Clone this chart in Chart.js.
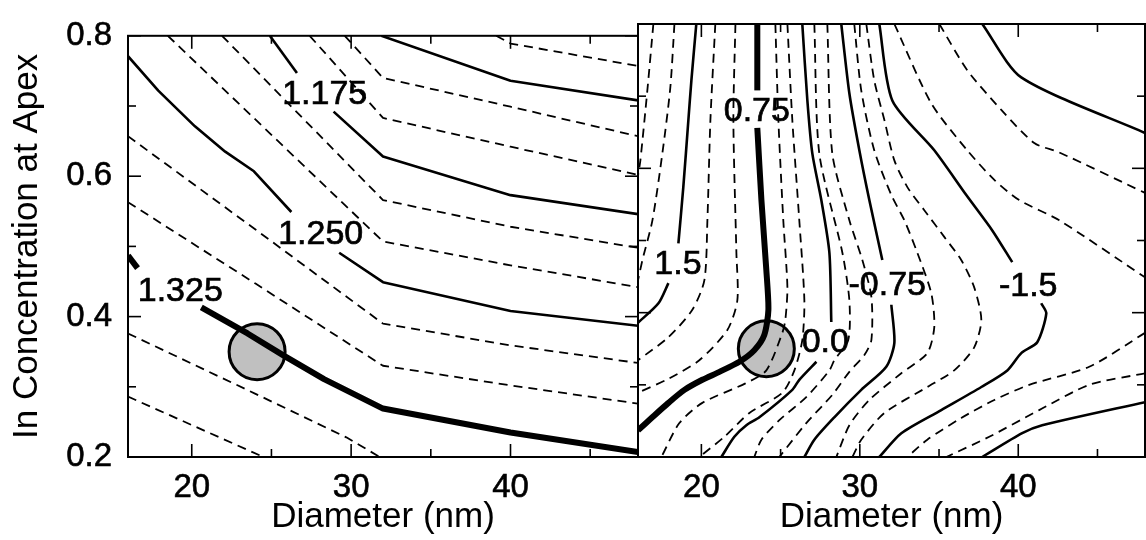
<!DOCTYPE html>
<html>
<head>
<meta charset="utf-8">
<script src="https://cdn.jsdelivr.net/npm/chart.js@4.4.1/dist/chart.umd.min.js"></script>
<style>
  html, body { margin: 0; padding: 0; background: #fff; }
  #wrap { position: relative; width: 1146px; height: 540px; overflow: hidden; background: #fff; }
  #c1 { position: absolute; left: 0; top: 0; }
  #c2 { position: absolute; left: 630px; top: 0; }
</style>
</head>
<body>
<div id="wrap">
  <canvas id="c1" width="640" height="540"></canvas>
  <canvas id="c2" width="516" height="540"></canvas>
</div>
<script>
// Axis ticks (diameter in nm, In concentration)
const xTicks = [20, 30, 40];
const xMinorTicks = [25, 35, 45];
const yTicks = [0.2, 0.4, 0.6, 0.8];
const yMinorTicks = [0.3, 0.5, 0.7];

// Optimum marker (diameter, concentration)
const optX = [24.1];
const optY = [0.35];

// Left panel contours, [diameter, concentration] pairs
const left1075  = [[39.1,0.800],[40.0,0.789],[48.0,0.757]];
const left1100  = [[31.9,0.800],[40.0,0.736],[48.0,0.708]];
const left1125  = [[29.6,0.800],[32.0,0.740],[40.0,0.699],[48.0,0.657]];
const left1150  = [[27.4,0.800],[32.0,0.683],[40.0,0.642],[48.0,0.602]];
const left1175a = [[24.9,0.800],[26.6,0.747]];
const left1175b = [[28.9,0.692],[32.0,0.628],[40.0,0.573],[48.0,0.546]];
const left1200  = [[21.9,0.800],[32.0,0.566],[40.0,0.528],[48.0,0.498]];
const left1225  = [[18.5,0.800],[32.0,0.507],[40.0,0.473],[48.0,0.442]];
const left1250a = [[16.0,0.771],[17.9,0.722],[20.2,0.671],[22.1,0.635],[23.9,0.607],[26.25,0.549]];
const left1250b = [[29.25,0.491],[32.0,0.449],[40.0,0.408],[48.0,0.387]];
const left1275  = [[16.0,0.657],[24.0,0.524],[32.0,0.390],[40.0,0.359],[48.0,0.334]];
const left1300  = [[16.0,0.563],[24.0,0.447],[32.0,0.330],[40.0,0.302],[48.0,0.276]];
const left1325a = [[16.0,0.487],[16.6,0.469]];
const left1325b = [[20.6,0.413],[23.5,0.376],[25.8,0.344],[28.3,0.311],[32.0,0.269],[40.0,0.235],[48.0,0.207]];
const left1350  = [[16.0,0.376],[24.0,0.290],[29.7,0.228],[31.8,0.200]];
const left1375  = [[16.0,0.286],[24.5,0.200]];

// Right panel contours, [diameter, concentration] pairs
const right200   = [[16.97,0.800],[16.59,0.708],[16.15,0.611],[16.0,0.590]];
const right175   = [[18.30,0.800],[18.04,0.712],[17.54,0.621],[16.91,0.528],[16.28,0.473],[16.0,0.445]];
const right150a  = [[19.68,0.800],[19.37,0.722],[19.18,0.667],[18.86,0.574],[18.55,0.496]];
const right150b  = [[17.92,0.441],[17.29,0.413],[16.0,0.386]];
const right125   = [[20.88,0.800],[20.57,0.667],[20.38,0.528],[20.19,0.445],[19.43,0.404],[17.92,0.366],[16.0,0.334]];
const right100   = [[22.15,0.800],[22.02,0.667],[22.21,0.483],[22.27,0.417],[21.64,0.376],[19.87,0.334],[17.98,0.309],[16.0,0.289]];
const right075a  = [[23.53,0.800],[23.53,0.708]];
const right075b  = [[23.53,0.656],[23.79,0.556],[24.10,0.459],[24.23,0.404],[23.97,0.369],[23.34,0.348],[22.40,0.332],[21.14,0.318],[20.06,0.307],[18.93,0.293],[17.92,0.275],[16.85,0.254],[16.0,0.237]];
const right050   = [[24.67,0.800],[24.86,0.667],[25.17,0.528],[25.43,0.435],[25.30,0.390],[25.11,0.372],[24.10,0.320],[22.78,0.302],[20.06,0.275],[18.61,0.247],[17.48,0.200]];
const right025   = [[25.43,0.800],[25.74,0.667],[26.18,0.528],[26.50,0.417],[26.37,0.362],[25.87,0.320],[25.11,0.289],[23.03,0.261],[21.45,0.228],[19.87,0.200]];
const right000a  = [[26.37,0.800],[26.69,0.694],[27.00,0.621],[27.57,0.556],[28.08,0.483],[28.20,0.387]];
const right000b  = [[27.26,0.332],[26.18,0.307],[25.74,0.293],[23.66,0.255],[22.84,0.244],[22.08,0.228],[21.26,0.200]];
const rightM025  = [[27.13,0.800],[27.44,0.621],[28.90,0.483],[29.34,0.417],[29.27,0.362],[28.39,0.334],[28.08,0.320],[26.62,0.283],[24.92,0.251],[23.79,0.224],[23.34,0.200]];
const rightM050  = [[27.95,0.800],[28.26,0.621],[29.34,0.528],[30.16,0.473],[30.73,0.422],[30.73,0.362],[30.28,0.341],[29.34,0.318],[28.26,0.286],[26.62,0.247],[24.92,0.200]];
const rightM075a = [[28.83,0.800],[29.34,0.704],[29.97,0.625],[30.60,0.556],[31.42,0.473]];
const rightM075b = [[31.99,0.411],[32.18,0.358],[31.67,0.325],[30.09,0.293],[28.39,0.255],[27.13,0.224],[26.50,0.200]];
const rightM100  = [[29.65,0.800],[30.09,0.708],[30.91,0.625],[31.99,0.563],[32.81,0.528],[33.63,0.483],[34.51,0.427],[34.70,0.380],[34.26,0.344],[32.62,0.316],[30.60,0.279],[29.34,0.244],[28.52,0.200]];
const rightM125  = [[30.41,0.800],[30.91,0.722],[31.55,0.667],[32.18,0.611],[33.00,0.574],[34.07,0.542],[35.33,0.505],[36.40,0.473],[37.22,0.435],[37.67,0.390],[37.22,0.352],[35.96,0.320],[34.26,0.297],[31.55,0.261],[30.09,0.224],[29.53,0.200]];
const rightM150a = [[31.23,0.800],[32.05,0.694],[34.70,0.625],[36.72,0.563],[38.36,0.514],[39.62,0.470]];
const rightM150b = [[41.45,0.413],[41.77,0.399],[41.20,0.359],[40.19,0.344],[39.31,0.320],[37.67,0.297],[35.14,0.265],[32.62,0.233],[31.23,0.200]];
const rightM175a = [[32.18,0.800],[34.51,0.690],[36.78,0.625],[38.49,0.584],[40.06,0.556],[42.59,0.528],[48.0,0.449]];
const rightM175b = [[48.0,0.372],[44.48,0.325],[40.69,0.300],[38.49,0.279],[36.40,0.254],[34.26,0.224],[33.00,0.200]];
const rightM200a = [[35.02,0.800],[36.78,0.736],[38.93,0.681],[41.01,0.635],[42.59,0.622],[48.0,0.566]];
const rightM200b = [[48.0,0.316],[44.48,0.300],[41.32,0.265],[38.17,0.228],[35.46,0.200]];
const rightM225a = [[37.73,0.800],[40.19,0.726],[48.0,0.649]];
const rightM225b = [[37.73,0.200],[40.25,0.233],[41.51,0.244],[48.0,0.276]];

// Contour level labels
const leftLabelText = ['1.175', '1.250', '1.325'];
const leftLabelX = [28.34, 28.09, 19.28];
const leftLabelY = [0.719, 0.519, 0.438];
const rightLabelText = ['0.75', '1.5', '0.0', '-0.75', '-1.5'];
const rightLabelX = [23.50, 18.52, 27.82, 31.73, 40.63];
const rightLabelY = [0.681, 0.468, 0.361, 0.439, 0.438];

const FONT = "'Liberation Sans', Arial, Helvetica, sans-serif";

// Line styles per contour type
const STYLES = {
  dash:  { borderWidth: 1.8, borderDash: [9, 6] },
  solid: { borderWidth: 2.6, borderDash: [] },
  thick: { borderWidth: 6,   borderDash: [] }
};

const leftLines = [
  [left1075, 'dash'], [left1100, 'solid'], [left1125, 'dash'], [left1150, 'dash'],
  [left1175a, 'solid'], [left1175b, 'solid'], [left1200, 'dash'], [left1225, 'dash'],
  [left1250a, 'solid'], [left1250b, 'solid'], [left1275, 'dash'], [left1300, 'dash'],
  [left1325a, 'thick'], [left1325b, 'thick'], [left1350, 'dash'], [left1375, 'dash']
];
const rightLines = [
  [right200, 'dash'], [right175, 'dash'], [right150a, 'solid'], [right150b, 'solid'],
  [right125, 'dash'], [right100, 'dash'], [right075a, 'thick'], [right075b, 'thick'],
  [right050, 'dash'], [right025, 'dash'], [right000a, 'solid'], [right000b, 'solid'],
  [rightM025, 'dash'], [rightM050, 'dash'], [rightM075a, 'solid'], [rightM075b, 'solid'],
  [rightM100, 'dash'], [rightM125, 'dash'], [rightM150a, 'solid'], [rightM150b, 'solid'],
  [rightM175a, 'dash'], [rightM175b, 'dash'], [rightM200a, 'dash'], [rightM200b, 'dash'],
  [rightM225a, 'solid'], [rightM225b, 'solid']
];

function lineDatasets(lines, tension) {
  return lines.map(([pts, kind]) => Object.assign({
    type: 'line',
    data: pts.map(([x, y]) => ({ x, y })),
    borderColor: '#000',
    pointRadius: 0,
    fill: false,
    tension: tension,
    borderCapStyle: 'butt',
    borderJoinStyle: 'round',
    clip: 0,
    order: 1
  }, STYLES[kind]));
}

function optimumDataset() {
  return {
    type: 'scatter',
    data: optX.map((x, i) => ({ x, y: optY[i] })),
    pointRadius: 28,
    pointHoverRadius: 28,
    pointBackgroundColor: '#c0c0c0',
    pointBorderColor: '#000',
    pointBorderWidth: 3,
    order: 2
  };
}

// Frame, inward ticks on all four sides and contour labels
function framePlugin(texts, xs, ys) {
  return {
    id: 'frameTicks',
    afterDatasetsDraw(chart) {
      const { ctx, chartArea: a } = chart;
      const sx = chart.scales.x, sy = chart.scales.y;
      ctx.save();
      ctx.strokeStyle = '#000';
      ctx.lineWidth = 1.6;
      const seg = (x0, y0, x1, y1) => { ctx.beginPath(); ctx.moveTo(x0, y0); ctx.lineTo(x1, y1); ctx.stroke(); };
      const xt = (vals, len) => vals.forEach(v => {
        const p = sx.getPixelForValue(v);
        seg(p, a.bottom, p, a.bottom - len);
        seg(p, a.top, p, a.top + len);
      });
      const yt = (vals, len) => vals.forEach(v => {
        const p = sy.getPixelForValue(v);
        seg(a.left, p, a.left + len, p);
        seg(a.right, p, a.right - len, p);
      });
      xt(xTicks, 13); xt(xMinorTicks, 8);
      yt(yTicks, 13); yt(yMinorTicks, 8);
      ctx.lineWidth = 2;
      ctx.strokeRect(a.left, a.top, a.right - a.left, a.bottom - a.top);
      ctx.fillStyle = '#000';
      ctx.font = '34px ' + FONT;
      ctx.textAlign = 'center';
      ctx.textBaseline = 'middle';
      ctx.lineWidth = 0.7;
      texts.forEach((t, i) => {
        const px = sx.getPixelForValue(xs[i]);
        const py = sy.getPixelForValue(ys[i]) + 1.5;
        ctx.fillText(t, px, py);
        ctx.strokeText(t, px, py);
      });
      ctx.restore();
    }
  };
}

function xScale() {
  return {
    type: 'linear', min: 16, max: 48,
    afterBuildTicks: s => { s.ticks = xTicks.map(v => ({ value: v })); },
    afterFit: s => { s.height = 83; },
    grid: { display: false, drawTicks: false },
    border: { display: false },
    ticks: {
      color: '#000', padding: 11, maxRotation: 0, minRotation: 0, autoSkip: false,
      textStrokeColor: '#000', textStrokeWidth: 0.6,
      font: { family: FONT, size: 33 },
      callback: v => String(v)
    },
    title: {
      display: true, text: 'Diameter (nm)', color: '#000',
      font: { family: FONT, size: 35 }, padding: { top: 0, bottom: 2 }
    }
  };
}

function makePanel(id, datasets, showY, padding, labels) {
  const yOpts = {
    type: 'linear', min: 0.2, max: 0.8,
    display: showY,
    afterBuildTicks: s => { s.ticks = yTicks.map(v => ({ value: v })); },
    grid: { display: false, drawTicks: false },
    border: { display: false },
    ticks: {
      color: '#000', padding: 16,
      textStrokeColor: '#000', textStrokeWidth: 0.6,
      font: { family: FONT, size: 33 },
      callback: v => v.toFixed(1)
    },
    title: {
      display: true, text: 'In Concentration at Apex', color: '#000',
      font: { family: FONT, size: 35 }, padding: { top: 6, bottom: 0 }
    }
  };
  if (showY) yOpts.afterFit = s => { s.width = 128; };
  return new Chart(document.getElementById(id), {
    type: 'line',
    data: { datasets },
    options: {
      responsive: false,
      animation: false,
      events: [],
      layout: { padding, autoPadding: false },
      plugins: { legend: { display: false }, tooltip: { enabled: false } },
      scales: { x: xScale(), y: yOpts }
    },
    plugins: [framePlugin(labels[0], labels[1], labels[2])]
  });
}

makePanel('c1',
  lineDatasets(leftLines, 0).concat([optimumDataset()]),
  true,
  { left: 0, right: 2, top: 24, bottom: 0 },
  [leftLabelText, leftLabelX, leftLabelY]);

makePanel('c2',
  lineDatasets(rightLines, 0.25).concat([optimumDataset()]),
  false,
  { left: 8, right: 1, top: 24, bottom: 0 },
  [rightLabelText, rightLabelX, rightLabelY]);
</script>
</body>
</html>
